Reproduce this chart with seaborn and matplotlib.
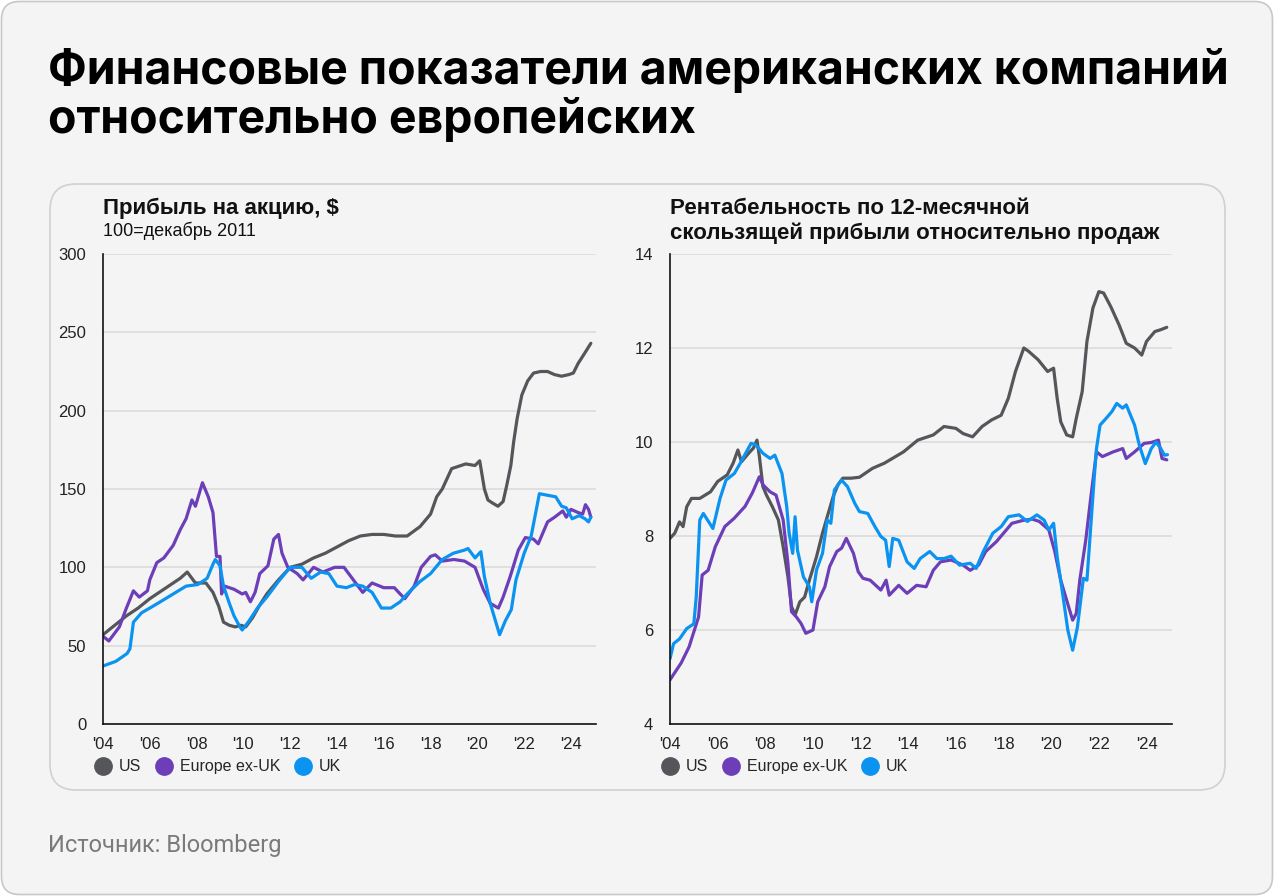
import matplotlib
matplotlib.use("Agg")
from matplotlib import pyplot as plt
from matplotlib.patches import FancyBboxPatch
from matplotlib.lines import Line2D
import matplotlib.transforms as mtransforms
import pandas as pd
import seaborn as sns

W, H = 1274, 896

series_names = ["US", "Europe ex-UK", "UK"]
series_colors = ["#54565a", "#6c3fb8", "#0a93f0"]
year_ticks = [2004, 2006, 2008, 2010, 2012, 2014, 2016, 2018, 2020, 2022, 2024]
year_labels = ["'04", "'06", "'08", "'10", "'12", "'14", "'16", "'18", "'20", "'22", "'24"]
eps_yticks = [0, 50, 100, 150, 200, 250, 300]
margin_yticks = [4, 6, 8, 10, 12, 14]

# --- EPS, 100 = Dec 2011 ---
us_eps_t = [2004.0, 2004.5, 2005.0, 2005.5, 2006.0, 2006.5, 2007.0, 2007.3, 2007.6, 2007.95,
            2008.4, 2008.7, 2008.95, 2009.15, 2009.4, 2009.65, 2009.9, 2010.1, 2010.4, 2010.7,
            2011.0, 2011.5, 2012.0, 2012.5, 2013.0, 2013.5, 2014.0, 2014.5, 2015.0, 2015.5,
            2016.0, 2016.5, 2017.0, 2017.55, 2018.0, 2018.26, 2018.5, 2018.9, 2019.5, 2019.9,
            2020.1, 2020.3, 2020.45, 2020.65, 2020.88, 2021.1, 2021.25, 2021.43, 2021.55, 2021.7,
            2021.9, 2022.15, 2022.4, 2022.7, 2023.0, 2023.3, 2023.6, 2023.9, 2024.1, 2024.3,
            2024.6, 2024.85]
us_eps = [57, 63, 69, 74, 80, 85, 90, 93, 97, 90,
          90, 84, 75, 65, 63, 62, 63, 62, 68, 76,
          83, 92, 100, 102, 106, 109, 113, 117, 120, 121,
          121, 120, 120, 126, 134, 145, 150, 163, 166, 165,
          168, 150, 143, 141, 139, 142, 152, 165, 180, 195,
          210, 219, 224, 225, 225, 223, 222, 223, 224, 230,
          237, 243]

eu_eps_t = [2004.0, 2004.25, 2004.7, 2005.0, 2005.3, 2005.55, 2005.9, 2006.0, 2006.3, 2006.6,
            2007.0, 2007.3, 2007.55, 2007.8, 2007.95, 2008.25, 2008.5, 2008.7, 2008.85, 2009.0,
            2009.07, 2009.2, 2009.6, 2009.95, 2010.1, 2010.3, 2010.5, 2010.7, 2011.05, 2011.3,
            2011.5, 2011.65, 2011.9, 2012.3, 2012.55, 2013.0, 2013.4, 2013.9, 2014.3, 2014.7,
            2015.1, 2015.5, 2016.0, 2016.45, 2016.7, 2016.9, 2017.3, 2017.6, 2018.0, 2018.2,
            2018.5, 2019.0, 2019.45, 2019.9, 2020.25, 2020.55, 2020.9, 2021.1, 2021.4, 2021.75,
            2022.05, 2022.4, 2022.6, 2023.0, 2023.3, 2023.65, 2023.8, 2024.0, 2024.3, 2024.5,
            2024.62, 2024.75, 2024.85]
eu_eps = [56, 53, 62, 74, 85, 81, 85, 92, 103, 106,
          114, 124, 131, 143, 139, 154, 145, 135, 107, 107,
          83, 88, 86, 83, 84, 78, 84, 96, 101, 118,
          121, 109, 100, 96, 92, 100, 97, 100, 100, 92,
          84, 90, 87, 87, 83, 80, 88, 100, 107, 108,
          104, 105, 104, 100, 86, 77, 74, 81, 94, 111,
          119, 118, 115, 129, 132, 136, 132, 137, 135, 134,
          140, 137, 132]

uk_eps_t = [2004.0, 2004.55, 2005.03, 2005.15, 2005.3, 2005.65, 2006.0, 2006.45, 2007.0, 2007.55,
            2008.05, 2008.45, 2008.7, 2008.8, 2009.0, 2009.15, 2009.4, 2009.6, 2009.85, 2009.95,
            2010.25, 2010.6, 2011.0, 2011.5, 2012.0, 2012.5, 2012.9, 2013.3, 2013.65, 2014.0,
            2014.4, 2014.75, 2015.1, 2015.5, 2015.9, 2016.3, 2016.7, 2017.0, 2017.55, 2018.0,
            2018.5, 2018.97, 2019.45, 2019.6, 2019.9, 2020.15, 2020.3, 2020.55, 2020.95, 2021.2,
            2021.45, 2021.65, 2022.0, 2022.3, 2022.65, 2023.0, 2023.35, 2023.6, 2023.8, 2024.05,
            2024.35, 2024.6, 2024.75, 2024.85]
uk_eps = [37, 40, 45, 48, 65, 71, 74, 78, 83, 88,
          89, 93, 102, 105, 101, 88, 77, 69, 62, 60,
          66, 74, 81, 91, 100, 100, 93, 97, 96, 88,
          87, 89, 88, 84, 74, 74, 78, 83, 91, 96,
          105, 109, 111, 112, 106, 110, 94, 77, 57, 66,
          73, 92, 109, 120, 147, 146, 145, 139, 138, 131,
          133, 131, 129, 132]

# --- margin, trailing 12m earnings / sales, % ---
us_mgn_t = [2004.0, 2004.2, 2004.4, 2004.55, 2004.7, 2004.9, 2005.25, 2005.7, 2006.0, 2006.4,
            2006.65, 2006.85, 2007.0, 2007.3, 2007.5, 2007.65, 2007.75, 2007.9, 2008.05, 2008.3,
            2008.55, 2008.75, 2008.95, 2009.1, 2009.25, 2009.45, 2009.65, 2009.85, 2010.15, 2010.4,
            2010.6, 2010.85, 2011.05, 2011.25, 2011.6, 2011.95, 2012.5, 2013.0, 2013.8, 2014.4,
            2015.05, 2015.5, 2016.0, 2016.3, 2016.7, 2017.1, 2017.5, 2017.9, 2018.2, 2018.5,
            2018.85, 2019.05, 2019.45, 2019.85, 2020.1, 2020.25, 2020.4, 2020.65, 2020.9, 2021.05,
            2021.3, 2021.5, 2021.75, 2022.0, 2022.2, 2022.5, 2022.85, 2023.15, 2023.5, 2023.8,
            2024.0, 2024.35, 2024.6, 2024.85]
us_mgn = [7.95, 8.06, 8.3, 8.2, 8.62, 8.8, 8.8, 8.94, 9.16, 9.3,
          9.55, 9.83, 9.58, 9.76, 9.87, 10.04, 9.7, 9.05, 8.87, 8.62,
          8.34, 7.77, 7.13, 6.5, 6.32, 6.6, 6.7, 7.06, 7.56, 8.06,
          8.41, 8.84, 9.09, 9.23, 9.23, 9.25, 9.44, 9.55, 9.79, 10.04,
          10.15, 10.33, 10.29, 10.18, 10.11, 10.33, 10.47, 10.57, 10.93, 11.5,
          12.0, 11.93, 11.75, 11.5, 11.57, 10.93, 10.43, 10.15, 10.11, 10.5,
          11.07, 12.14, 12.85, 13.2, 13.17, 12.88, 12.49, 12.1, 12.0, 11.85,
          12.14, 12.35, 12.39, 12.44]

eu_mgn_t = [2004.0, 2004.47, 2004.8, 2005.2, 2005.35, 2005.6, 2005.9, 2006.3, 2006.7, 2007.15,
            2007.45, 2007.75, 2007.9, 2008.2, 2008.45, 2008.75, 2008.95, 2009.1, 2009.3, 2009.5,
            2009.7, 2010.0, 2010.2, 2010.5, 2010.7, 2011.0, 2011.2, 2011.4, 2011.7, 2011.9,
            2012.1, 2012.4, 2012.85, 2013.07, 2013.2, 2013.6, 2013.95, 2014.35, 2014.75, 2015.05,
            2015.35, 2015.8, 2016.3, 2016.6, 2016.95, 2017.25, 2017.7, 2018.0, 2018.35, 2018.8,
            2019.2, 2019.5, 2019.9, 2020.15, 2020.4, 2020.65, 2020.9, 2021.05, 2021.2, 2021.45,
            2021.65, 2021.9, 2022.15, 2022.6, 2023.0, 2023.15, 2023.5, 2023.9, 2024.2, 2024.5,
            2024.65, 2024.85]
eu_mgn = [4.94, 5.3, 5.64, 6.28, 7.17, 7.27, 7.77, 8.2, 8.38, 8.63,
          8.91, 9.26, 9.09, 8.94, 8.87, 8.34, 7.42, 6.39, 6.28, 6.14,
          5.93, 6.0, 6.6, 6.92, 7.35, 7.67, 7.74, 7.95, 7.63, 7.24,
          7.1, 7.06, 6.85, 7.06, 6.74, 6.95, 6.78, 6.95, 6.92, 7.27,
          7.45, 7.49, 7.38, 7.27, 7.38, 7.67, 7.88, 8.06, 8.27, 8.33,
          8.36, 8.31, 8.13, 7.67, 7.06, 6.63, 6.21, 6.35, 7.06, 7.91,
          8.77, 9.79, 9.69, 9.79, 9.86, 9.65, 9.79, 9.97, 9.99, 10.04,
          9.65, 9.62]

uk_mgn_t = [2004.0, 2004.15, 2004.4, 2004.7, 2005.0, 2005.1, 2005.25, 2005.4, 2005.8, 2006.1,
            2006.35, 2006.7, 2006.95, 2007.4, 2007.6, 2007.9, 2008.2, 2008.4, 2008.7, 2008.9,
            2009.0, 2009.15, 2009.25, 2009.35, 2009.6, 2009.85, 2009.95, 2010.15, 2010.4, 2010.6,
            2010.75, 2010.9, 2011.2, 2011.45, 2011.75, 2011.95, 2012.3, 2012.6, 2012.85, 2013.05,
            2013.2, 2013.35, 2013.6, 2013.95, 2014.25, 2014.5, 2014.9, 2015.2, 2015.5, 2015.8,
            2016.15, 2016.6, 2016.85, 2017.15, 2017.55, 2017.9, 2018.2, 2018.65, 2019.0, 2019.4,
            2019.7, 2019.9, 2020.1, 2020.25, 2020.5, 2020.7, 2020.9, 2021.1, 2021.35, 2021.5,
            2021.65, 2021.8, 2021.9, 2022.05, 2022.3, 2022.55, 2022.75, 2023.0, 2023.15, 2023.5,
            2023.7, 2023.95, 2024.2, 2024.4, 2024.6, 2024.75, 2024.88]
uk_mgn = [5.39, 5.71, 5.81, 6.03, 6.13, 6.7, 8.34, 8.48, 8.16, 8.8,
          9.19, 9.33, 9.55, 9.97, 9.94, 9.76, 9.65, 9.72, 9.33, 8.62,
          8.06, 7.63, 8.41, 7.7, 7.13, 6.92, 6.6, 7.28, 7.63, 8.34,
          8.27, 8.98, 9.19, 9.05, 8.7, 8.52, 8.48, 8.2, 7.99, 7.91,
          7.35, 7.95, 7.91, 7.45, 7.31, 7.52, 7.67, 7.52, 7.52, 7.57,
          7.38, 7.42, 7.31, 7.67, 8.06, 8.2, 8.41, 8.45, 8.31, 8.45,
          8.34, 8.13, 8.27, 7.56, 6.7, 5.99, 5.57, 6.06, 7.1, 7.06,
          8.13, 9.2, 9.86, 10.36, 10.5, 10.65, 10.82, 10.72, 10.79, 10.36,
          9.93, 9.54, 9.86, 10.0, 9.86, 9.72, 9.73]


def make_frame(parts):
    frames = []
    for name, t, v in parts:
        frames.append(pd.DataFrame({"year": t, "value": v, "series": name}))
    return pd.concat(frames, ignore_index=True)


def fx(x):
    return x / W


def fy(y):
    return 1 - y / H


def draw_panel(ax, df, yticks):
    sns.lineplot(data=df, x="year", y="value", hue="series", hue_order=series_names,
                 palette=series_colors, linewidth=2.3, estimator=None, errorbar=None,
                 legend=False, ax=ax)
    ax.set_facecolor("none")
    ax.set_xlim(2004, 2025.07)
    ax.set_ylim(yticks[0], yticks[-1])
    ax.set_xticks(year_ticks)
    ax.set_xticklabels(year_labels)
    ax.set_yticks(yticks)
    ax.set_xlabel("")
    ax.set_ylabel("")
    ax.grid(axis="y", color="#d9d9d9", linewidth=1.1)
    ax.set_axisbelow(True)
    for s in ["top", "right"]:
        ax.spines[s].set_visible(False)
    ax.spines["left"].set_color("#111111")
    ax.spines["bottom"].set_color("#111111")
    ax.spines["left"].set_linewidth(1.2)
    ax.spines["bottom"].set_linewidth(1.2)
    ax.tick_params(axis="x", length=5, width=1.1, color="#111111", labelsize=12, pad=4,
                   labelcolor="#222222")
    ax.tick_params(axis="y", length=0, labelsize=12, pad=12, labelcolor="#222222")
    handles = [Line2D([], [], marker="o", linestyle="none", markersize=12.5, color=c)
               for c in series_colors]
    ax.legend(handles, series_names, loc="center left", bbox_to_anchor=(-0.019, -0.091),
              ncol=3, frameon=False, fontsize=11.5, handletextpad=0.4, columnspacing=0.8,
              handlelength=1.2, borderaxespad=0, borderpad=0)


sns.set_style("white")
plt.rcParams["font.family"] = ["Liberation Sans", "DejaVu Sans"]

fig = plt.figure(figsize=(W / 100, H / 100), dpi=100)
fig.patch.set_facecolor("white")

outer = FancyBboxPatch((1.5, 1.5), W - 3, H - 3, boxstyle="round,pad=0,rounding_size=18",
                       transform=mtransforms.IdentityTransform(), facecolor="#f4f4f4",
                       edgecolor="#c8c8c8", linewidth=1.2, zorder=-10)
fig.add_artist(outer)
card = FancyBboxPatch((50, H - 790), 1175, 606, boxstyle="round,pad=0,rounding_size=26",
                      transform=mtransforms.IdentityTransform(), facecolor="#f4f4f4",
                      edgecolor="#d0d0d0", linewidth=1.2, zorder=-9)
fig.add_artist(card)

ax1 = fig.add_axes([fx(103), fy(724), (596 - 103) / W, 470 / H])
ax2 = fig.add_axes([fx(670), fy(724), (1172 - 670) / W, 470 / H])

eps_df = make_frame([("US", us_eps_t, us_eps), ("Europe ex-UK", eu_eps_t, eu_eps),
                     ("UK", uk_eps_t, uk_eps)])
mgn_df = make_frame([("US", us_mgn_t, us_mgn), ("Europe ex-UK", eu_mgn_t, eu_mgn),
                     ("UK", uk_mgn_t, uk_mgn)])
draw_panel(ax1, eps_df, eps_yticks)
draw_panel(ax2, mgn_df, margin_yticks)

fig.text(fx(48), fy(84), "Финансовые показатели американских компаний",
         fontsize=33.4, fontweight="bold", family=["Inter", "Roboto", "DejaVu Sans"],
         color="black", va="baseline", ha="left")
fig.text(fx(48), fy(133), "относительно европейских",
         fontsize=33.4, fontweight="bold", family=["Inter", "Roboto", "DejaVu Sans"],
         color="black", va="baseline", ha="left")

fig.text(fx(103), fy(208), "Прибыль на акцию, $", fontsize=16, fontweight="bold",
         color="#111111", va="center", ha="left")
fig.text(fx(103), fy(231), "100=декабрь 2011", fontsize=13, color="#111111",
         va="center", ha="left")
fig.text(fx(670), fy(221), "Рентабельность по 12-месячной\nскользящей прибыли относительно продаж",
         fontsize=16, fontweight="bold", color="#111111", va="center", ha="left",
         linespacing=1.27)

fig.text(fx(48), fy(845), "Источник: Bloomberg", fontsize=17, color="#7a7a7a",
         family=["Roboto", "DejaVu Sans"], va="center", ha="left")

fig.savefig("out.png", dpi=100, facecolor=fig.get_facecolor())
